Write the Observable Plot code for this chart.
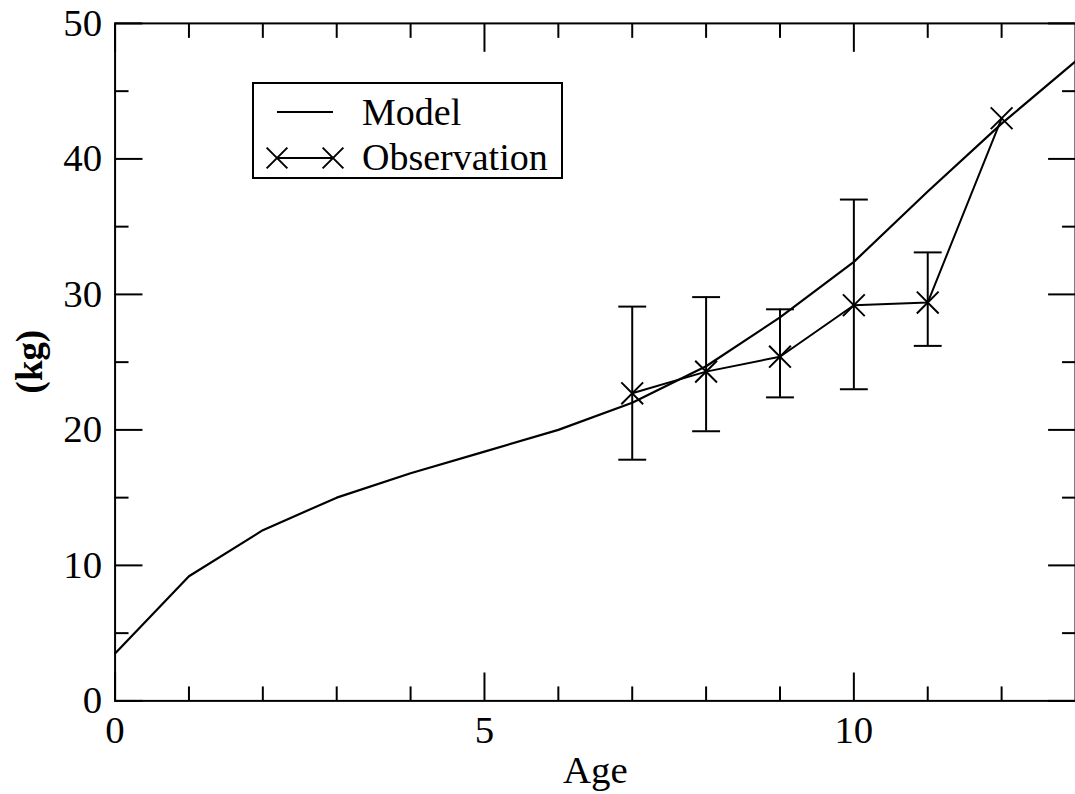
<!DOCTYPE html>
<html>
<head>
<meta charset="utf-8">
<script src="https://cdn.jsdelivr.net/npm/d3@7"></script>
<script src="https://cdn.jsdelivr.net/npm/@observablehq/plot@0.6"></script>
<style>
  html, body { margin: 0; padding: 0; background: #fff; overflow: hidden; }
  #wrap { position: relative; width: 1075px; height: 794px; overflow: hidden; }
  #legend { position: absolute; left: 0; top: 0; pointer-events: none; }
</style>
</head>
<body>
<div id="wrap"></div>
<script>
// ---- data ----
const modelAge = [0, 1, 2, 3, 4, 5, 6, 7, 8, 9, 10, 11, 12, 13];
const modelKg  = [3.5, 9.2, 12.6, 15.0, 16.8, 18.4, 20.0, 22.0, 24.7, 28.3, 32.4, 37.6, 42.6, 47.2];

const obsAge = [7, 8, 9, 10, 11, 12];
const obsKg  = [22.7, 24.3, 25.4, 29.2, 29.4, 43.0];
const obsLo  = [17.8, 19.9, 22.4, 23.0, 26.2, null];
const obsHi  = [29.1, 29.8, 28.9, 37.0, 33.1, null];

const xMajor = [0, 5, 10];
const xMinor = [1, 2, 3, 4, 6, 7, 8, 9, 11, 12];
const yMajor = [0, 10, 20, 30, 40, 50];
const yMinor = [5, 15, 25, 35, 45];

const seriesNames = ["Model", "Observation"];

// ---- tables ----
const model = modelAge.map((a, i) => ({age: a, kg: modelKg[i]}));
const obs = obsAge.map((a, i) => ({age: a, kg: obsKg[i], lo: obsLo[i], hi: obsHi[i]}));
const bars = obs.filter(d => d.lo != null);

const capSymbol = {
  draw(ctx, size) {
    const r = Math.sqrt(size / Math.PI);
    ctx.moveTo(-r, 0);
    ctx.lineTo(r, 0);
  }
};

const font = "'Liberation Serif', 'Times New Roman', serif";

const chart = Plot.plot({
  width: 1079,
  height: 794,
  marginLeft: 115,
  marginRight: 0,
  marginTop: 23,
  marginBottom: 91,
  style: {fontFamily: font, fontSize: "39px", color: "#000", background: "#fff", overflow: "visible"},
  x: {domain: [0, 13]},
  y: {domain: [0, 50]},
  marks: [
    // inward ticks: bottom, top, left, right
    Plot.axisX({anchor: "bottom", ticks: xMajor, tickSize: -28, text: null, strokeWidth: 2, label: null}),
    Plot.axisX({anchor: "bottom", ticks: xMinor, tickSize: -14, text: null, strokeWidth: 2, label: null}),
    Plot.axisX({anchor: "top", ticks: xMajor, tickSize: -28, text: null, strokeWidth: 2, label: null}),
    Plot.axisX({anchor: "top", ticks: xMinor, tickSize: -14, text: null, strokeWidth: 2, label: null}),
    Plot.axisY({anchor: "left", ticks: yMajor, tickSize: -28, text: null, strokeWidth: 2, label: null}),
    Plot.axisY({anchor: "left", ticks: yMinor, tickSize: -14, text: null, strokeWidth: 2, label: null}),
    Plot.axisY({anchor: "right", ticks: yMajor, tickSize: -28, text: null, strokeWidth: 2, label: null}),
    Plot.axisY({anchor: "right", ticks: yMinor, tickSize: -14, text: null, strokeWidth: 2, label: null}),
    // tick labels
    Plot.axisX({anchor: "bottom", ticks: xMajor, tickSize: 0, tickPadding: 15, tickFormat: d => String(d),
      fontSize: 39, label: "Age", labelAnchor: "center", labelOffset: 82, labelArrow: "none"}),
    Plot.axisY({anchor: "left", ticks: yMajor, tickSize: 0, tickPadding: 13, tickFormat: d => String(d),
      fontSize: 39, label: null}),
    Plot.frame({stroke: "#000", strokeWidth: 2}),
    // model line
    Plot.line(model, {x: "age", y: "kg", stroke: "#000", strokeWidth: 2.2}),
    // error bars
    Plot.ruleX(bars, {x: "age", y1: "lo", y2: "hi", stroke: "#000", strokeWidth: 2}),
    Plot.dot(bars, {x: "age", y: "lo", symbol: capSymbol, r: 14, stroke: "#000", strokeWidth: 2}),
    Plot.dot(bars, {x: "age", y: "hi", symbol: capSymbol, r: 14, stroke: "#000", strokeWidth: 2}),
    // observation line + markers
    Plot.line(obs, {x: "age", y: "kg", stroke: "#000", strokeWidth: 2}),
    Plot.dot(obs, {x: "age", y: "kg", symbol: "times", r: 10, stroke: "#000", strokeWidth: 2})
  ]
});

const wrap = document.getElementById("wrap");
wrap.appendChild(chart);

// rotated y label "(kg)"
const ns = "http://www.w3.org/2000/svg";
const yl = document.createElementNS(ns, "text");
yl.setAttribute("transform", "translate(30,363) rotate(-90)");
yl.setAttribute("text-anchor", "middle");
yl.setAttribute("dominant-baseline", "central");
yl.setAttribute("font-family", font);
yl.setAttribute("font-size", "37");
yl.setAttribute("font-weight", "bold");
yl.textContent = "(kg)";
chart.appendChild(yl);

// legend overlay
const lg = d3.select(wrap).append("svg").attr("id", "legend")
  .attr("width", 1075).attr("height", 794);
lg.append("rect").attr("x", 253).attr("y", 83).attr("width", 309).attr("height", 95)
  .attr("fill", "#fff").attr("stroke", "#000").attr("stroke-width", 2);
const rowsY = [112, 158];
const baseY = [125, 170];
// Model sample
lg.append("line").attr("x1", 277).attr("x2", 333).attr("y1", rowsY[0]).attr("y2", rowsY[0])
  .attr("stroke", "#000").attr("stroke-width", 2);
// Observation sample
lg.append("line").attr("x1", 277).attr("x2", 333).attr("y1", rowsY[1]).attr("y2", rowsY[1])
  .attr("stroke", "#000").attr("stroke-width", 2);
const xPath = d3.symbol(d3.symbolTimes, Math.PI * 90)();
[277, 333].forEach(cx => lg.append("path").attr("d", xPath)
  .attr("transform", `translate(${cx},${rowsY[1]})`)
  .attr("fill", "none").attr("stroke", "#000").attr("stroke-width", 2));
seriesNames.forEach((n, i) => lg.append("text").attr("x", 362).attr("y", baseY[i])
  .attr("font-family", font).attr("font-size", 38)
  .text(n));
</script>
</body>
</html>
